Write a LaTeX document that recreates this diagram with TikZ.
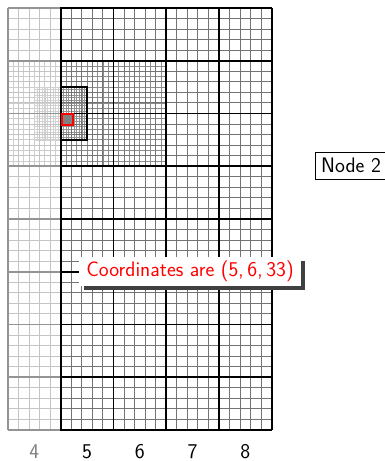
\documentclass[tikz,border=0pt]{standalone}
\usetikzlibrary{shadows}
\begin{document}
\begin{tikzpicture}[x=1pt,y=1pt,
  major/.style={black,line width=1.7pt},
  minor/.style={black!55,line width=1pt},
  fine/.style={black!45,line width=0.9pt},
  finer/.style={black!42,line width=0.6pt},
  lbl/.style={font=\fontsize{21}{25}\selectfont\sffamily}]
\useasboundingbox (0,0) rectangle (385,-461);
% level 2 fine grid
\foreach \i in {0,...,30} \draw[fine] ({8+\i*5.275},-60.75) -- ({8+\i*5.275},-166.25);
\foreach \j in {0,...,20} \draw[fine] (8,{-60.75-\j*5.275}) -- (166.25,{-60.75-\j*5.275});
% level 3 finer grid
\foreach \i in {0,...,20} \draw[finer] ({34.375+\i*2.6375},-87.125) -- ({34.375+\i*2.6375},-139.875);
\foreach \j in {0,...,20} \draw[finer] (34.375,{-87.125-\j*2.6375}) -- (87.125,{-87.125-\j*2.6375});
% level 1 minor grid
\foreach \i in {0,...,25} \draw[minor] ({8+\i*10.55},-8) -- ({8+\i*10.55},-430);
\foreach \j in {0,...,40} \draw[minor] (8,{-8-\j*10.55}) -- (271.75,{-8-\j*10.55});
% major grid
\foreach \i in {0,...,5} \draw[major] ({8+\i*52.75},-8) -- ({8+\i*52.75},-430);
\foreach \j in {0,...,8} \draw[major] (8,{-8-\j*52.75}) -- (271.75,{-8-\j*52.75});
% fade column 4
\fill[white,opacity=0.58] (6,-6) rectangle (60,-432);
% level 3 border
\draw[black,line width=1.4pt] (61,-87.125) -- (87.125,-87.125) -- (87.125,-139.875) -- (61,-139.875);
% selected cell
\draw[red,line width=2pt,fill=black!50] (62,-113.7) rectangle (73.3,-125);
% nodes
\node[lbl,fill=white,text=red,inner xsep=7pt,inner ysep=0pt,minimum height=29pt,
  drop shadow={shadow xshift=4.5pt,shadow yshift=-3.5pt,fill=black!75,opacity=1}]
  (coord) at (190,-271.5) {Coordinates are (5,\,6,\,33)};
\node[lbl,draw=black,line width=1pt,fill=white,inner xsep=6pt,inner ysep=0pt,minimum height=27pt,anchor=west]
  (n2) at (314.7,-165.5) {Node 2};
% column labels
\node[lbl,text=black!50,anchor=base,inner sep=0pt] (l4) at (34.4,-458) {4};
\node[lbl,anchor=base,inner sep=0pt] (l5) at (87.1,-458) {5};
\node[lbl,anchor=base,inner sep=0pt] (l6) at (139.9,-458) {6};
\node[lbl,anchor=base,inner sep=0pt] (l7) at (192.6,-458) {7};
\node[lbl,anchor=base,inner sep=0pt] (l8) at (245.4,-458) {8};
\end{tikzpicture}
\end{document}
